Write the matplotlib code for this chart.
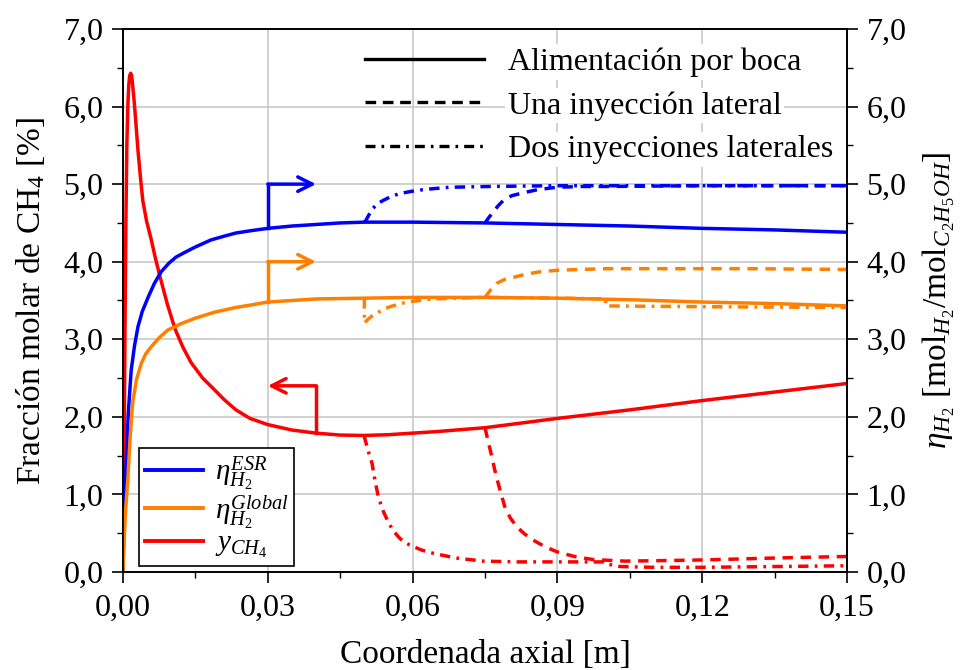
import numpy as np
import matplotlib
matplotlib.use('Agg')
import matplotlib.pyplot as plt
from matplotlib.lines import Line2D
from matplotlib.ticker import MultipleLocator, FuncFormatter

plt.rcParams['font.family'] = 'serif'
plt.rcParams['font.serif'] = ['Liberation Serif', 'DejaVu Serif']
plt.rcParams['mathtext.fontset'] = 'custom'
plt.rcParams['mathtext.rm'] = 'Liberation Serif'
plt.rcParams['mathtext.it'] = 'Liberation Serif:italic'
plt.rcParams['mathtext.bf'] = 'Liberation Serif:bold'

# --- data (axial coordinate in m) ---
# Alimentacion por boca (solid)
x_esr = [0, 0.0002, 0.0004, 0.0007, 0.0011, 0.0017, 0.0024, 0.0031, 0.004, 0.0052,
         0.0065, 0.0079, 0.0095, 0.011, 0.0128, 0.015, 0.0182, 0.021, 0.0234, 0.0265,
         0.03, 0.035, 0.04, 0.045, 0.05, 0.06, 0.075, 0.09, 0.105, 0.12, 0.135, 0.15]
eta_esr = [0, 0.55, 1.0, 1.48, 2.05, 2.60, 2.92, 3.16, 3.36, 3.54,
           3.72, 3.87, 3.98, 4.06, 4.12, 4.19, 4.28, 4.33, 4.37, 4.40,
           4.43, 4.46, 4.48, 4.50, 4.51, 4.51, 4.50, 4.48, 4.46, 4.43, 4.41, 4.38]

x_glob = [0, 0.0002, 0.0005, 0.001, 0.0015, 0.002, 0.0028, 0.0038, 0.0047, 0.0058,
          0.0075, 0.0093, 0.012, 0.0149, 0.019, 0.0234, 0.0263, 0.03, 0.035, 0.04,
          0.05, 0.06, 0.075, 0.09, 0.105, 0.12, 0.135, 0.15]
eta_glob = [0, 0.35, 0.75, 1.19, 1.75, 2.18, 2.48, 2.69, 2.81, 2.90,
            3.02, 3.12, 3.20, 3.27, 3.35, 3.41, 3.44, 3.48, 3.50, 3.52,
            3.53, 3.54, 3.54, 3.53, 3.51, 3.48, 3.46, 3.43]

x_ch4 = [0, 0.0002, 0.0004, 0.0006, 0.0008, 0.001, 0.0012, 0.0014, 0.0016, 0.0018,
         0.002, 0.0023, 0.0027, 0.0031, 0.0036, 0.0041, 0.0049, 0.0058, 0.0067, 0.0077,
         0.0092, 0.0108, 0.0124, 0.0141, 0.0165, 0.0191, 0.021, 0.0234, 0.0263, 0.03,
         0.035, 0.04, 0.045, 0.05, 0.055, 0.06, 0.065, 0.075, 0.09, 0.105, 0.12, 0.135, 0.15]
y_ch4 = [0, 1.3, 3.0, 4.5, 5.5, 6.0, 6.28, 6.40, 6.43, 6.40,
         6.28, 6.08, 5.77, 5.44, 5.10, 4.79, 4.52, 4.30, 4.05, 3.80,
         3.45, 3.13, 2.90, 2.70, 2.50, 2.34, 2.22, 2.09, 1.98, 1.90,
         1.83, 1.79, 1.765, 1.76, 1.77, 1.79, 1.81, 1.86, 1.98, 2.09, 2.21, 2.32, 2.43]

# Una inyeccion lateral (dashed, at 0.075 m)
x_esr_1 = [0.075, 0.0758, 0.0767, 0.0777, 0.0788, 0.0805, 0.083, 0.086, 0.0899, 0.095,
           0.1, 0.12, 0.15]
eta_esr_1 = [4.50, 4.57, 4.64, 4.72, 4.79, 4.85, 4.89, 4.93, 4.96, 4.97,
             4.97, 4.98, 4.98]
x_glob_1 = [0.075, 0.0762, 0.0774, 0.079, 0.081, 0.0835, 0.0864, 0.09, 0.0947, 0.1,
            0.11, 0.13, 0.15]
eta_glob_1 = [3.54, 3.64, 3.72, 3.77, 3.80, 3.84, 3.87, 3.89, 3.90, 3.91,
              3.91, 3.91, 3.90]
x_ch4_1 = [0.075, 0.0757, 0.0764, 0.077, 0.0777, 0.0784, 0.0791, 0.0802, 0.0816, 0.0832,
           0.085, 0.0873, 0.0899, 0.0935, 0.0974, 0.104, 0.11, 0.12, 0.135, 0.15]
y_ch4_1 = [1.86, 1.67, 1.49, 1.32, 1.15, 0.99, 0.84, 0.70, 0.58, 0.49,
           0.41, 0.33, 0.26, 0.20, 0.16, 0.14, 0.145, 0.155, 0.18, 0.20]

# Dos inyecciones laterales (dash-dot, at 0.05 m and 0.10 m)
x_esr_2 = [0.05, 0.0503, 0.051, 0.0518, 0.0528, 0.0539, 0.0555, 0.0574, 0.0609, 0.064,
           0.0677, 0.076, 0.09, 0.1, 0.12, 0.15]
eta_esr_2 = [4.51, 4.53, 4.61, 4.69, 4.75, 4.79, 4.84, 4.88, 4.92, 4.94,
             4.96, 4.97, 4.98, 4.98, 4.98, 4.98]
x_glob_2 = [0.05, 0.05, 0.0508, 0.0518, 0.0535, 0.0553, 0.0588, 0.0642, 0.075, 0.09,
            0.1, 0.1, 0.12, 0.15]
eta_glob_2 = [3.53, 3.21, 3.26, 3.31, 3.37, 3.42, 3.48, 3.52, 3.54, 3.53,
              3.52, 3.43, 3.42, 3.41]
x_ch4_2 = [0.05, 0.0501, 0.0508, 0.0516, 0.0522, 0.0529, 0.0538, 0.0549, 0.056, 0.0574,
           0.0587, 0.06, 0.062, 0.0643, 0.069, 0.0746, 0.0816, 0.089, 0.1, 0.1005,
           0.103, 0.11, 0.12, 0.135, 0.15]
y_ch4_2 = [1.76, 1.72, 1.56, 1.40, 1.18, 0.97, 0.80, 0.65, 0.53, 0.43,
           0.37, 0.33, 0.28, 0.24, 0.18, 0.14, 0.13, 0.13, 0.13, 0.10,
           0.07, 0.06, 0.06, 0.07, 0.08]

# axis-pointer arrows: (x of stem, y of elbow, x of tip)
arrow_esr = (0.03, 5.0, 0.04)
arrow_glob = (0.03, 4.0, 0.04)
arrow_ch4 = (0.04, 2.4, 0.03)

c_blue = '#0000ff'
c_orange = '#ff8000'
c_red = '#ff0000'
lw = 2.5
dash = (0, (3.0, 2.2))
dashdot = (0, (3.0, 1.8, 0.8, 1.8))

fig = plt.figure(figsize=(9.63, 6.70), dpi=100)
ax1 = fig.add_axes([0.1277, 0.1463, 0.7519, 0.8104])
ax2 = ax1.twinx()

# CH4 on left axis
ax1.plot(x_ch4, y_ch4, color=c_red, lw=lw)
ax1.plot(x_ch4_1, y_ch4_1, color=c_red, lw=lw, linestyle=dash)
ax1.plot(x_ch4_2, y_ch4_2, color=c_red, lw=lw, linestyle=dashdot)

# H2 yields on right axis
ax2.plot(x_esr, eta_esr, color=c_blue, lw=lw)
ax2.plot(x_glob, eta_glob, color=c_orange, lw=lw)
ax2.plot(x_esr_1, eta_esr_1, color=c_blue, lw=lw, linestyle=dash)
ax2.plot(x_glob_1, eta_glob_1, color=c_orange, lw=lw, linestyle=dash)
ax2.plot(x_esr_2, eta_esr_2, color=c_blue, lw=lw, linestyle=dashdot)
ax2.plot(x_glob_2, eta_glob_2, color=c_orange, lw=lw, linestyle=dashdot)


def pointer(ax, xs, ys, spec, color):
    x0, yel, xt = spec
    ybase = np.interp(x0, xs, ys)
    ax.plot([x0, x0], [ybase, yel], color=color, lw=lw)
    ax.annotate('', xy=(xt, yel), xytext=(x0, yel),
                arrowprops=dict(arrowstyle='->', color=color, lw=lw,
                                mutation_scale=26, shrinkA=0, shrinkB=0))


pointer(ax2, x_esr, eta_esr, arrow_esr, c_blue)
pointer(ax2, x_glob, eta_glob, arrow_glob, c_orange)
pointer(ax1, x_ch4, y_ch4, arrow_ch4, c_red)

for ax in (ax1, ax2):
    ax.set_xlim(0, 0.15)
    ax.set_ylim(0, 7)
    ax.yaxis.set_major_locator(MultipleLocator(1))
    ax.yaxis.set_minor_locator(MultipleLocator(0.5))
    ax.yaxis.set_major_formatter(FuncFormatter(lambda v, p: f'{v:.1f}'.replace('.', ',')))
    ax.tick_params(which='major', direction='out', length=8, width=1.2, labelsize=23, pad=6)
    ax.tick_params(which='minor', direction='out', length=4.5, width=1.0)
    for s in ax.spines.values():
        s.set_linewidth(1.2)

ax1.xaxis.set_major_locator(MultipleLocator(0.03))
ax1.xaxis.set_minor_locator(MultipleLocator(0.015))
ax1.xaxis.set_major_formatter(FuncFormatter(lambda v, p: f'{v:.2f}'.replace('.', ',')))
ax1.tick_params(axis='x', pad=8)
ax1.grid(True, which='major', color='#c8c8c8', lw=1.2)
ax1.set_axisbelow(True)

ax1.set_xlabel('Coordenada axial [m]', fontsize=24, labelpad=12)
ax1.set_ylabel(r'Fracción molar de CH$_4$ [$\%$]', fontsize=24, labelpad=12)
ax2.set_ylabel(r'$\eta_{H_2}$ [mol$_{H_2}$/mol$_{C_2H_5OH}$]', fontsize=24, labelpad=10)

# species legend (bottom left)
species = [Line2D([], [], color=c_blue, lw=2.8),
           Line2D([], [], color=c_orange, lw=2.8),
           Line2D([], [], color=c_red, lw=2.8)]
species_lbl = [r'$\eta_{H_2}^{ESR}$', r'$\eta_{H_2}^{Global}$', r'$y_{CH_4}$']
leg1 = ax2.legend(species, species_lbl, loc='lower left', bbox_to_anchor=(0.022, 0.011),
                  borderaxespad=0, fancybox=False, edgecolor='black', framealpha=1,
                  fontsize=21, handlelength=2.0, handletextpad=0.4, labelspacing=0.0,
                  borderpad=0.2)
leg1.get_frame().set_linewidth(1.2)
ax2.add_artist(leg1)

# configuration legend (top right)
cases = [Line2D([], [], color='black', lw=2.4),
         Line2D([], [], color='black', lw=2.4, linestyle=(0, (3.2, 2.0))),
         Line2D([], [], color='black', lw=2.4, linestyle=(0, (3.0, 1.8, 0.8, 1.8)))]
cases_lbl = ['Alimentación por boca', 'Una inyección lateral', 'Dos inyecciones laterales']
leg2 = ax2.legend(cases, cases_lbl, loc='upper right', bbox_to_anchor=(0.998, 0.99),
                  borderaxespad=0, frameon=False, fontsize=23, handlelength=3.7,
                  handletextpad=0.75, labelspacing=0.45)
for t in leg2.get_texts():
    t.set_bbox(dict(facecolor='white', edgecolor='none', pad=2))

fig.savefig('out.png', dpi=100)
